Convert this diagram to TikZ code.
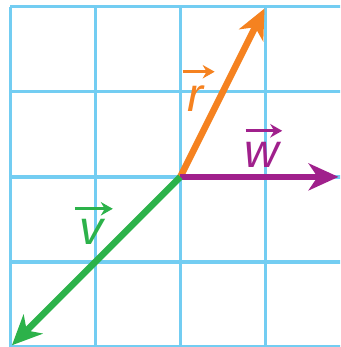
\documentclass[tikz,border=0pt]{standalone}
\usepackage{fontspec}
\newfontfamily\lblfont{Liberation Sans}
\usetikzlibrary{arrows.meta,positioning}
\definecolor{gridblue}{RGB}{115,205,242}
\definecolor{vecorange}{RGB}{245,130,32}
\definecolor{vecpurple}{RGB}{160,32,140}
\definecolor{vecgreen}{RGB}{44,178,74}
\tikzset{
  vec/grid/.style={draw=gridblue, line width=1.1pt},
  vec/arrow/.style={line width=2.2pt, -{Stealth[length=10pt,width=9pt,inset=3pt]}},
  vec/label/.style={font=\lblfont\itshape\fontsize{16}{16}\selectfont, inner sep=0pt},
  vec/overarrow/.style={line width=1.1pt, -{Stealth[length=4pt,width=4.5pt]}}
}

\begin{document}
\begin{tikzpicture}
  \useasboundingbox (-2.12,-2.0) rectangle (1.88,2.08);
  \clip (-2.12,-2.0) rectangle (1.88,2.08);
  \draw[vec/grid] (-2,-2.5) grid (2.5,2);

  \coordinate (origin) at (0,0);
  \coordinate (rtip) at (0.99,1.98);
  \coordinate (wtip) at (1.86,0);
  \coordinate (vtip) at (-1.98,-1.98);

  \draw[vec/arrow, vecorange] (origin) -- (rtip);
  \draw[vec/arrow, vecpurple] (origin) -- (wtip);
  \draw[vec/arrow, vecgreen] (origin) -- (vtip);

  % labels with their small arrows
  \node[vec/label, text=vecorange] (rlbl) at (0.18,0.92) {r};
  \node[vec/label, text=vecpurple] (wlbl) at (0.96,0.26) {w};
  \node[vec/label, text=vecgreen] (vlbl) at (-1.04,-0.65) {v};
  \draw[vec/overarrow, vecorange] ([shift={(-1.5pt,4.5pt)}]rlbl.north west) -- ([shift={(3.5pt,4.5pt)}]rlbl.north east);
  \draw[vec/overarrow, vecpurple] ([shift={(0.5pt,3.6pt)}]wlbl.north west) -- ([shift={(0.8pt,3.6pt)}]wlbl.north east);
  \draw[vec/overarrow, vecgreen] ([shift={(-1.5pt,3.4pt)}]vlbl.north west) -- ([shift={(2.8pt,3.4pt)}]vlbl.north east);
\end{tikzpicture}
\end{document}
